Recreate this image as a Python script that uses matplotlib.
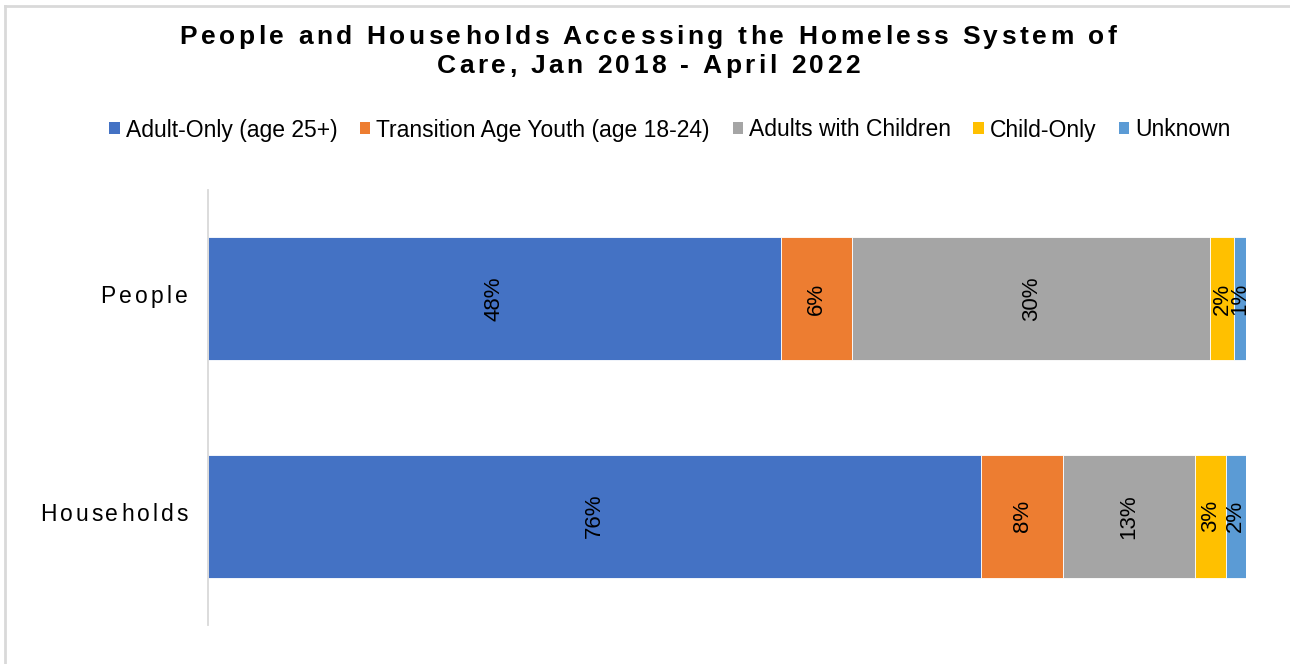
import numpy as np
import matplotlib; matplotlib.use("Agg")
import matplotlib.pyplot as plt
from matplotlib.patches import Patch
from matplotlib.lines import Line2D
from matplotlib.font_manager import FontProperties

W, H = 1290, 664
FONT = "Liberation Sans"

groups = ["People", "Households"]
series = ["Adult-Only (age 25+)", "Transition Age Youth (age 18-24)",
          "Adults with Children", "Child-Only", "Unknown"]
people_pct = [48, 6, 30, 2, 1]
households_pct = [76, 8, 13, 3, 2]
colors = ["#4472C4", "#ED7D31", "#A5A5A5", "#FFC000", "#5B9BD5"]

vals = np.array([people_pct, households_pct], dtype=float)
shares = vals / vals.sum(axis=1, keepdims=True) * 100   # 100% stacked

fig = plt.figure(figsize=(W / 100, H / 100), dpi=100)
ax = fig.add_axes([208 / W, 1 - 625 / H, 1038 / W, 435 / H])

ypos = np.arange(len(groups))
left = np.zeros(len(groups))
for j, name in enumerate(series):
    ax.barh(ypos, shares[:, j], left=left, height=0.565, color=colors[j],
            edgecolor="white", linewidth=0.6, label=name)
    for i in range(len(groups)):
        ax.text(left[i] + shares[i, j] / 2, ypos[i], f"{vals[i, j]:.0f}%",
                rotation=90, ha="center", va="center", fontsize=16,
                family=FONT, color="black")
    left += shares[:, j]

ax.set_xlim(0, 100)
ax.set_ylim(1.5, -0.5)
ax.set_xticks([]); ax.set_yticks([])
for s in ["top", "right", "bottom"]:
    ax.spines[s].set_visible(False)
ax.spines["left"].set_color("#D9D9D9")
ax.spines["left"].set_linewidth(1.3)


def tracked(s, x, y, width, ha="center", **kw):
    """Draw s letter-spaced so its ink spans `width` px; x,y in px from top-left."""
    r = fig.canvas.get_renderer()
    fp = FontProperties(family=kw.get("family", FONT), size=kw["fontsize"],
                        weight=kw.get("weight", "normal"))
    def ink(t):
        return r.get_text_width_height_descent(t, fp, ismath=False)[0] if t.strip() else 0.0
    full = ink(s)
    track = (width - full) / (len(s) - 1)
    x0 = x - width / 2 if ha == "center" else x - width
    for i, c in enumerate(s):
        if c == " ":
            continue
        off = ink(s[:i + 1]) - ink(c) + i * track
        fig.text((x0 + off) / W, 1 - y / H, c, ha="left", va="baseline", **kw)


tracked("People and Households Accessing the Homeless System of", 648, 44, 937,
        fontsize=19, weight="bold", family=FONT)
tracked("Care, Jan 2018 - April 2022", 648, 73, 423,
        fontsize=19, weight="bold", family=FONT)

tracked("People", 188, 303, 88, ha="right", fontsize=16.5, family=FONT)
tracked("Households", 188, 521, 148, ha="right", fontsize=16.5, family=FONT)

handles = [Patch(facecolor=c, edgecolor="none") for c in colors]
fig.legend(handles, series, loc="center", bbox_to_anchor=(670 / W, 1 - 130 / H),
           ncol=5, frameon=False, prop=FontProperties(family=FONT, size=16.5),
           handlelength=0.45, handleheight=0.45, handletextpad=0.25,
           columnspacing=1.0, borderaxespad=0)

# outer frame edges
fig.add_artist(Line2D([5 / W, 1], [1 - 6 / H, 1 - 6 / H], transform=fig.transFigure,
                      color="#D9D9D9", lw=2))
fig.add_artist(Line2D([5 / W, 5 / W], [0, 1 - 6 / H], transform=fig.transFigure,
                      color="#D9D9D9", lw=2))

fig.savefig("out.png", dpi=100, facecolor="white")
